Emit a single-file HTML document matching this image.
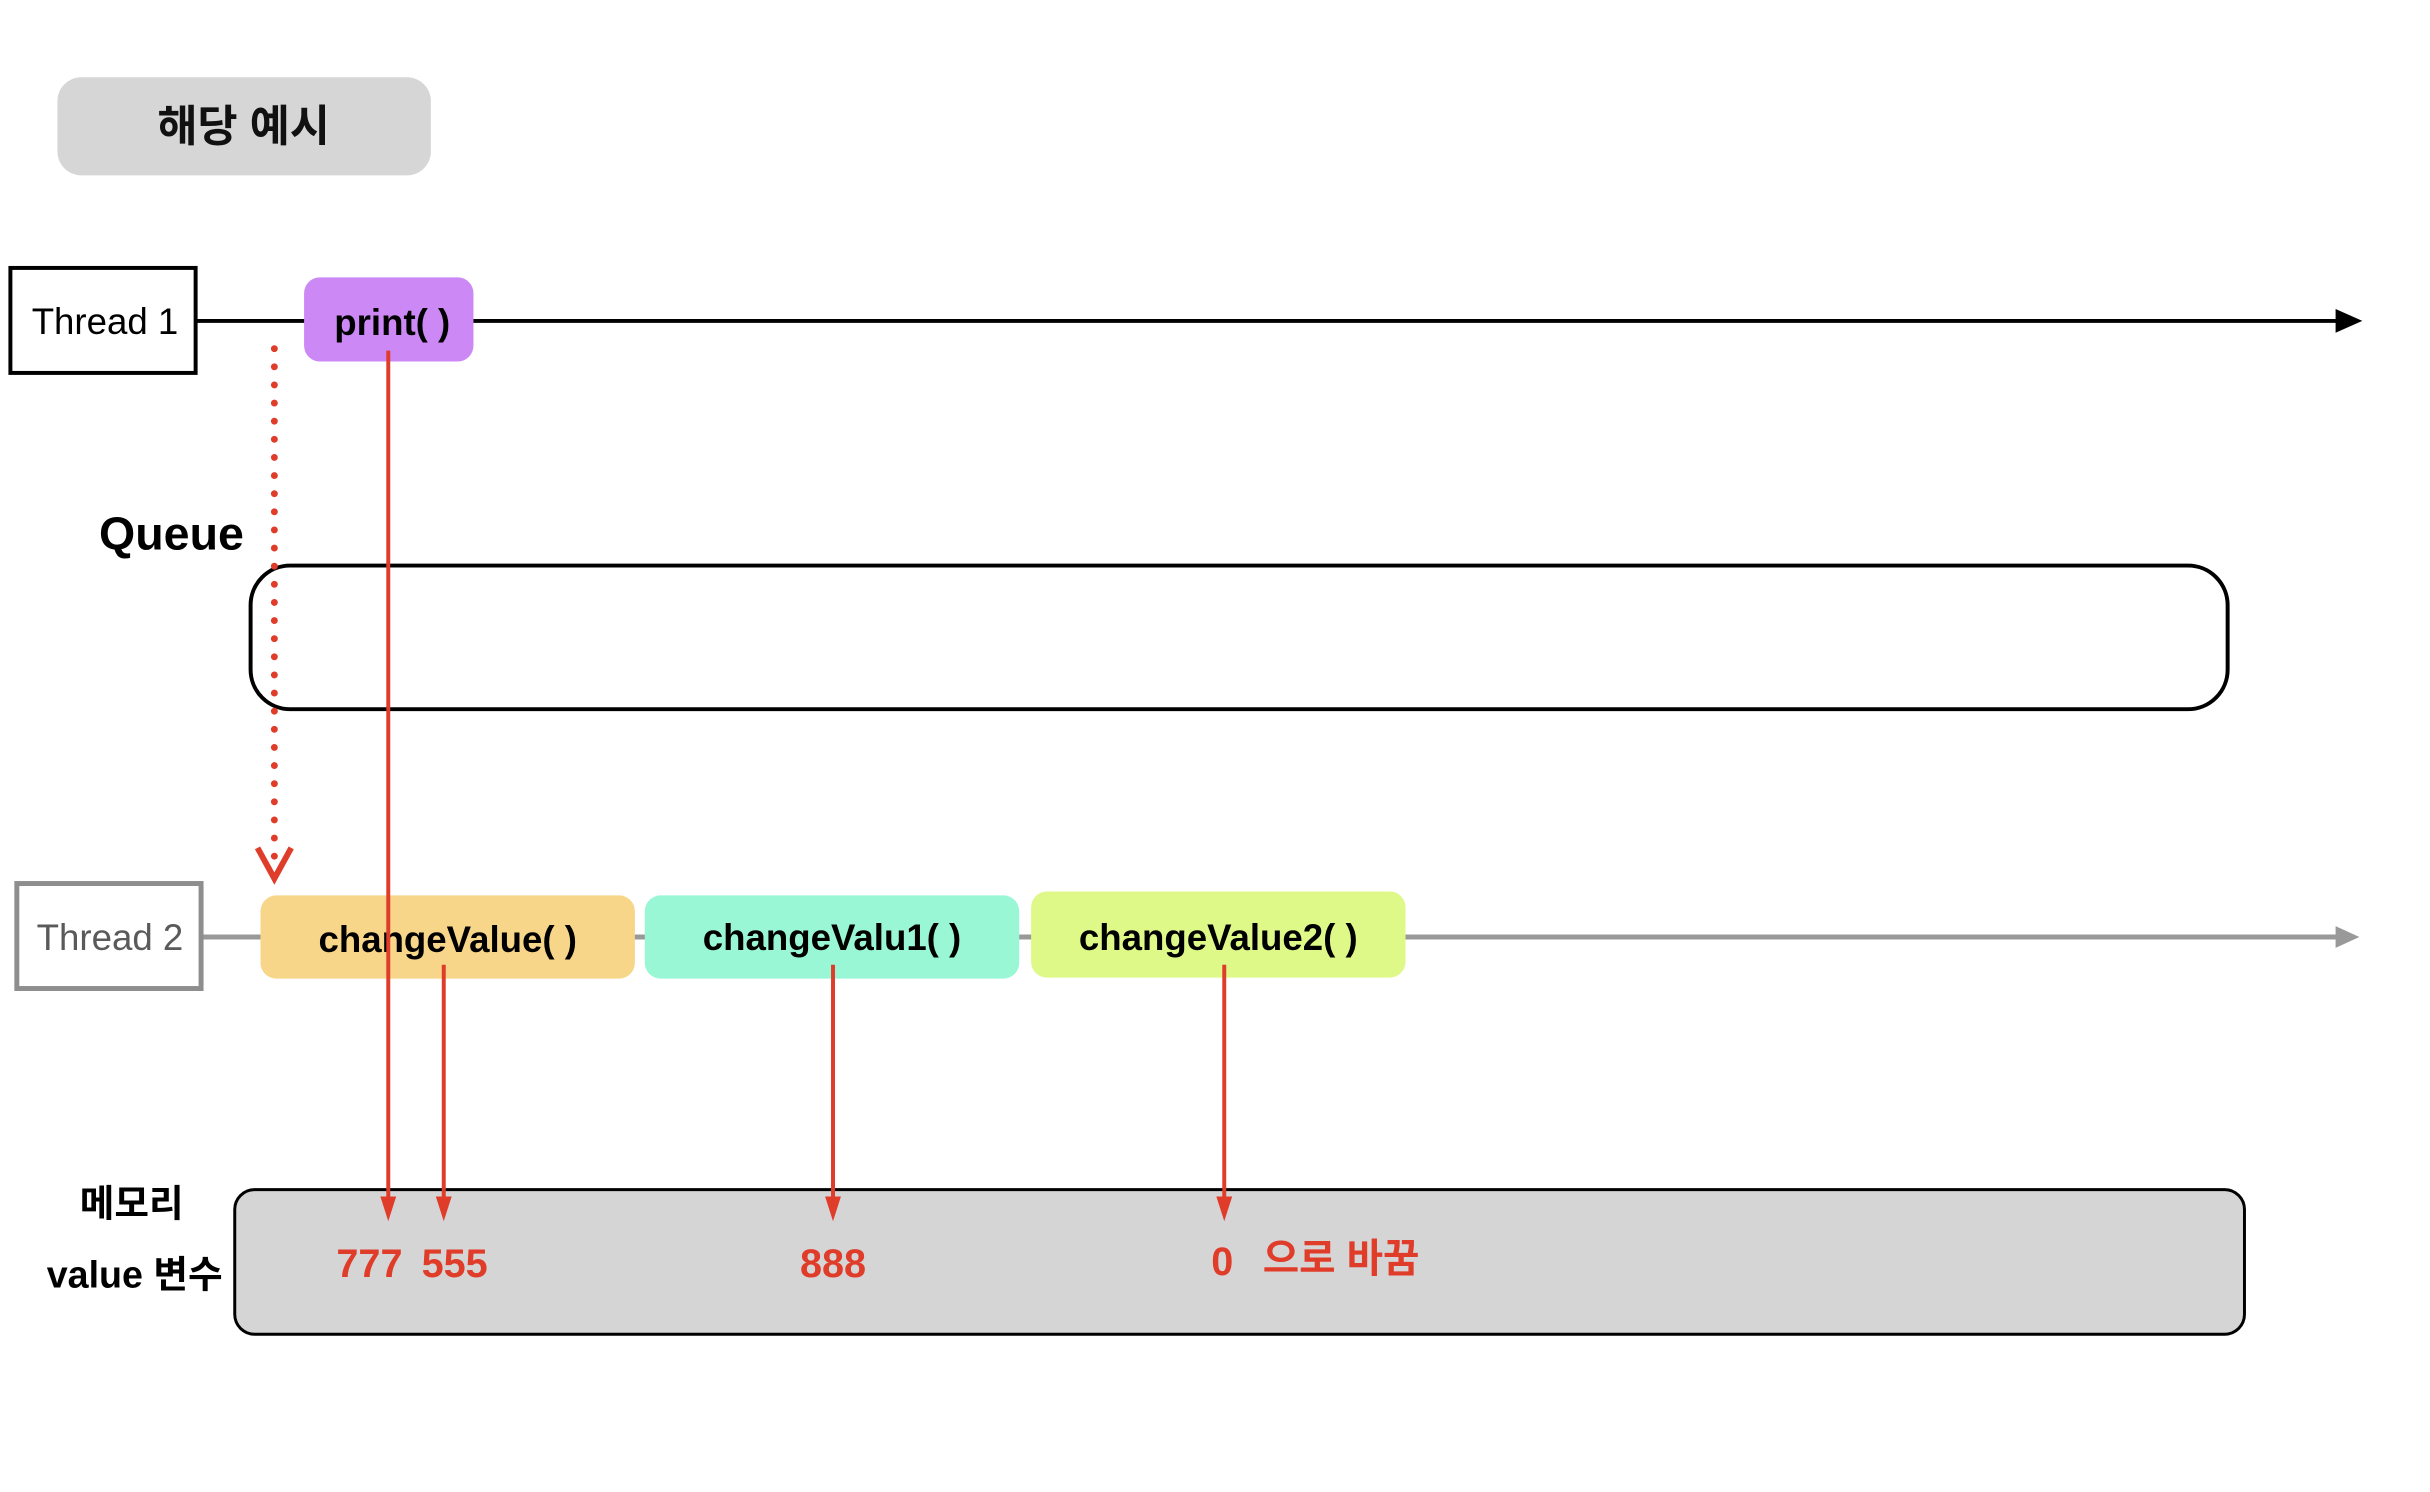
<!DOCTYPE html>
<html><head><meta charset="utf-8"><style>
html,body{margin:0;padding:0;background:#fff;width:2430px;height:1492px;overflow:hidden}
svg{display:block}
text{font-family:"Liberation Sans","Noto Sans CJK KR",sans-serif}
</style></head><body>
<svg width="2430" height="1492" viewBox="0 0 2430 1492" xmlns="http://www.w3.org/2000/svg">
<g transform="scale(0.9905)">
<rect x="58" y="78" width="377" height="99" rx="24" fill="#d6d6d6"/>
<text x="246" y="143" font-size="44" font-weight="bold" text-anchor="middle" fill="#111">해당 예시</text>

<line x1="199" y1="324" x2="2360" y2="324" stroke="#000" stroke-width="4"/>
<polygon points="2358,312 2385,324 2358,336" fill="#000"/>
<rect x="10.5" y="270.5" width="187" height="106" fill="#fff" stroke="#000" stroke-width="4"/>
<text x="106" y="337" font-size="37" text-anchor="middle" fill="#000">Thread 1</text>
<rect x="307" y="280" width="171" height="85" rx="16" fill="#cc88f5"/>
<text x="396" y="338" font-size="37" font-weight="bold" text-anchor="middle" fill="#000">print( )</text>

<text x="100" y="555" font-size="47" font-weight="bold" fill="#000">Queue</text>
<rect x="253" y="571" width="1996" height="145" rx="40" fill="none" stroke="#000" stroke-width="4"/>

<line x1="277" y1="352" x2="277" y2="872" stroke="#e03c2a" stroke-width="7" stroke-linecap="round" stroke-dasharray="0 18.3"/>
<polyline points="260,856 277,887 294,856" fill="none" stroke="#e03c2a" stroke-width="6"/>

<line x1="204" y1="946" x2="2360" y2="946" stroke="#999" stroke-width="5"/>
<polygon points="2358,935 2382,946 2358,957" fill="#999"/>
<rect x="17" y="892" width="186" height="106" fill="#fff" stroke="#8e8e8e" stroke-width="5"/>
<text x="111" y="959" font-size="37" text-anchor="middle" fill="#5a5a5a">Thread 2</text>
<rect x="263" y="904" width="378" height="84" rx="16" fill="#f7d689"/>
<text x="452" y="961" font-size="37" font-weight="bold" text-anchor="middle" fill="#000">changeValue( )</text>
<rect x="651" y="904" width="378" height="84" rx="16" fill="#99f7d6"/>
<text x="840" y="959" font-size="37" font-weight="bold" text-anchor="middle" fill="#000">changeValu1( )</text>
<rect x="1041" y="900" width="378" height="87" rx="16" fill="#def988"/>
<text x="1230" y="959" font-size="37" font-weight="bold" text-anchor="middle" fill="#000">changeValue2( )</text>

<rect x="237" y="1201" width="2029" height="146" rx="20" fill="#d5d5d5" stroke="#000" stroke-width="3"/>
<text x="133" y="1228" font-size="38" font-weight="bold" text-anchor="middle" fill="#000">메모리</text>
<text x="136" y="1300" font-size="38" font-weight="bold" text-anchor="middle" fill="#000">value 변수</text>

<g stroke="#e03c2a" stroke-width="4">
<line x1="392" y1="354" x2="392" y2="1212"/>
<line x1="448" y1="974" x2="448" y2="1212"/>
<line x1="841" y1="974" x2="841" y2="1212"/>
<line x1="1236" y1="974" x2="1236" y2="1212"/>
</g>
<g fill="#e03c2a">
<polygon points="384,1208 400,1208 392,1233"/>
<polygon points="440,1208 456,1208 448,1233"/>
<polygon points="833,1208 849,1208 841,1233"/>
<polygon points="1228,1208 1244,1208 1236,1233"/>
</g>
<g font-size="40" font-weight="bold" fill="#e03c2a" text-anchor="middle">
<text x="373" y="1289">777</text>
<text x="459" y="1289">555</text>
<text x="841" y="1289">888</text>
<text x="1234" y="1287">0</text>
<text x="1354" y="1284">으로 바꿈</text>
</g>
</g>
</svg>
</body></html>
